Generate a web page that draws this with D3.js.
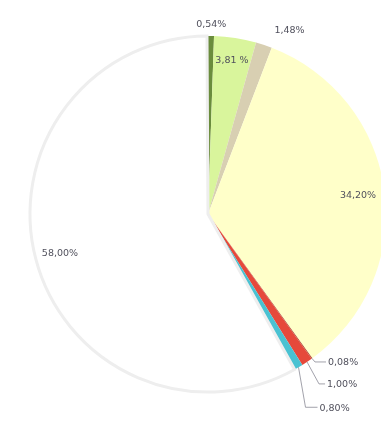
<!DOCTYPE html>
<html>
<head>
<meta charset="utf-8">
<script src="https://cdn.jsdelivr.net/npm/d3@7/dist/d3.min.js"></script>
<style>
  html, body { margin: 0; padding: 0; background: #ffffff; }
  svg { display: block; }
  text { font-family: "DejaVu Sans", Verdana, sans-serif; font-size: 9.5px; fill: #50505c; }
</style>
</head>
<body>
<svg id="chart" width="381" height="421"></svg>
<script>
// Slice shares, in clockwise order starting at twelve o'clock
const labels = ["0,54%", "3,81 %", "1,48%", "34,20%", "0,08%", "1,00%", "0,80%", "58,00%"];
const values = [0.54, 3.81, 1.48, 34.20, 0.08, 1.00, 0.80, 58.00];
const colors = ["#6b8c3c", "#d9f59c", "#d8cfb2", "#ffffc9", "#a8402c", "#e6483a", "#48c2d2", "#ffffff"];

// How each label sits: inside at a fraction of the radius, just outside the rim,
// or at the end of a leader (elbow offset from the rim, then a short horizontal run)
const labelMode = [
  { kind: "out", k: 1.07, dx: 0, dy: 0 },
  { kind: "in", k: 0.88, dx: 0, dy: 0 },
  { kind: "out", k: 1.10, dx: 20, dy: 2 },
  { kind: "in", k: 0.85, dx: 0, dy: 0 },
  { kind: "lead", elbow: [3, 3.5], run: 11 },
  { kind: "lead", elbow: [12, 22], run: 6 },
  { kind: "lead", elbow: [7, 40], run: 12 },
  { kind: "in", k: 0.86, dx: 0, dy: 0 }
];

const svg = d3.select("#chart");
const cx = 208, cy = 214, R = 178;

const defs = svg.append("defs");
defs.append("filter").attr("id", "soft")
  .attr("x", "-5%").attr("y", "-5%").attr("width", "110%").attr("height", "110%")
  .append("feGaussianBlur").attr("stdDeviation", 0.6);

const g = svg.append("g")
  .attr("transform", `translate(${cx},${cy})`)
  .attr("filter", "url(#soft)");

const pie = d3.pie().sort(null).value(d => d)
  .startAngle(0).endAngle(2 * Math.PI * d3.sum(values) / 100);
const arcs = pie(values);
const arc = d3.arc().innerRadius(0).outerRadius(R);

g.selectAll("path.slice")
  .data(arcs)
  .join("path")
  .attr("class", "slice")
  .attr("d", arc)
  .attr("fill", (d, i) => colors[i])
  .attr("stroke", (d, i) => i === values.length - 1 ? "#eeeeee" : "none")
  .attr("stroke-width", 3);

// point on a circle of radius r at pie angle a (clockwise from top)
const polar = (a, r) => [Math.sin(a) * r, -Math.cos(a) * r];

arcs.forEach((d, i) => {
  const m = labelMode[i];
  const mid = (d.startAngle + d.endAngle) / 2;
  if (m.kind === "lead") {
    const p0 = polar(mid, R);
    const p1 = [p0[0] + m.elbow[0], p0[1] + m.elbow[1]];
    const p2 = [p1[0] + m.run, p1[1]];
    g.append("polyline")
      .attr("points", [p0, p1, p2].map(p => p.join(",")).join(" "))
      .attr("fill", "none")
      .attr("stroke", "#8a8a95")
      .attr("stroke-width", 0.8);
    g.append("text")
      .attr("x", p2[0] + 2)
      .attr("y", p2[1])
      .attr("dy", "0.35em")
      .attr("text-anchor", "start")
      .text(labels[i]);
  } else {
    const p = polar(mid, R * m.k);
    g.append("text")
      .attr("x", p[0] + m.dx)
      .attr("y", p[1] + m.dy)
      .attr("dy", "0.35em")
      .attr("text-anchor", "middle")
      .text(labels[i]);
  }
});
</script>
</body>
</html>
